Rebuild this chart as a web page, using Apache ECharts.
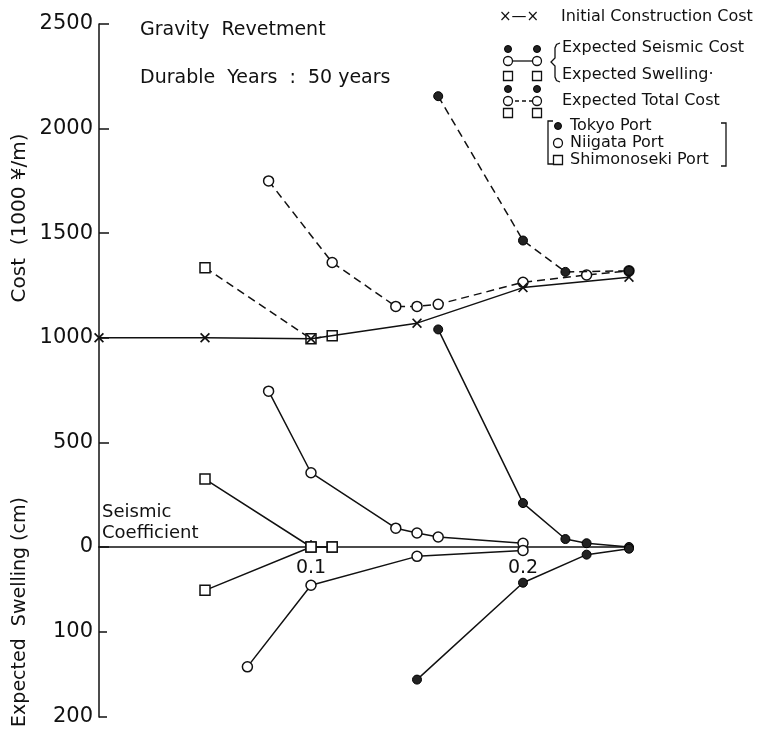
<!DOCTYPE html>
<html><head><meta charset="utf-8">
<script src="https://cdn.jsdelivr.net/npm/echarts@6/dist/echarts.min.js"></script>
<style>html,body{margin:0;padding:0;background:#fff}#c{width:765px;height:730px}</style>
</head><body><div id="c"></div>
<script>
// Seismic coefficient (x) and values
const initX = [0, 0.05, 0.1, 0.15, 0.2, 0.25];
const initCost = [1000, 1000, 995, 1070, 1240, 1290];

const tokyoTotalX = [0.16, 0.2, 0.22, 0.25];
const tokyoTotal = [2155, 1465, 1315, 1320];
const niigataTotalX = [0.08, 0.11, 0.14, 0.15, 0.16, 0.2, 0.23, 0.25];
const niigataTotal = [1750, 1360, 1150, 1150, 1160, 1265, 1300, 1320];
const shimoTotalX = [0.05, 0.1, 0.11];
const shimoTotal = [1335, 995, 1010];

const tokyoSeisX = [0.16, 0.2, 0.22, 0.23, 0.25];
const tokyoSeis = [1040, 210, 38, 18, 0];
const niigataSeisX = [0.08, 0.1, 0.14, 0.15, 0.16, 0.2];
const niigataSeis = [745, 355, 90, 67, 48, 18];
const shimoSeisX = [0.05, 0.1, 0.11];
const shimoSeis = [325, 0, 0];

const tokyoSwellX = [0.15, 0.2, 0.23, 0.25];
const tokyoSwell = [156, 42, 9, 2];
const niigataSwellX = [0.07, 0.1, 0.15, 0.2];
const niigataSwell = [141, 45, 11, 4];
const shimoSwellX = [0.05, 0.1, 0.11];
const shimoSwell = [51, 0, 0];

const costTicks = [0, 500, 1000, 1500, 2000, 2500];
const swellTicks = [100, 200];
const coefTicks = [0.1, 0.2];

const FONT = 'DejaVu Sans';
const INK = '#111';
function pairs(xs, ys) { return xs.map((x, i) => [x, ys[i]]); }

const crossSym = 'path://M0,1.2 L1.2,0 L5,3.8 L8.8,0 L10,1.2 L6.2,5 L10,8.8 L8.8,10 L5,6.2 L1.2,10 L0,8.8 L3.8,5 Z';
const styles = {
  tokyo: { symbol: 'circle', symbolSize: 9, itemStyle: { color: '#222', borderColor: '#000', borderWidth: 1 } },
  niigata: { symbol: 'circle', symbolSize: 10, itemStyle: { color: '#fff', borderColor: INK, borderWidth: 1.5 } },
  shimo: { symbol: 'rect', symbolSize: 10, itemStyle: { color: '#fff', borderColor: INK, borderWidth: 1.5 } }
};
function mk(name, xs, ys, port, dashed, gi) {
  return Object.assign({
    name: name, type: 'line', xAxisIndex: gi, yAxisIndex: gi,
    data: pairs(xs, ys), showSymbol: true, animation: false, z: port === 'tokyo' ? 4 : 3,
    lineStyle: { color: INK, width: 1.5, type: dashed ? [8, 5] : 'solid' }
  }, styles[port]);
}

const series = [
  { name: 'Initial Construction Cost', type: 'line', xAxisIndex: 0, yAxisIndex: 0,
    data: pairs(initX, initCost), symbol: crossSym, symbolSize: 10, animation: false,
    itemStyle: { color: INK }, lineStyle: { color: INK, width: 1.5 }, z: 5 },
  mk('Tokyo Total', tokyoTotalX, tokyoTotal, 'tokyo', true, 0),
  mk('Niigata Total', niigataTotalX, niigataTotal, 'niigata', true, 0),
  mk('Shimonoseki Total', shimoTotalX, shimoTotal, 'shimo', true, 0),
  mk('Tokyo Seismic', tokyoSeisX, tokyoSeis, 'tokyo', false, 0),
  mk('Niigata Seismic', niigataSeisX, niigataSeis, 'niigata', false, 0),
  mk('Shimonoseki Seismic', shimoSeisX, shimoSeis, 'shimo', false, 0),
  mk('Tokyo Swelling', tokyoSwellX, tokyoSwell, 'tokyo', false, 1),
  mk('Niigata Swelling', niigataSwellX, niigataSwell, 'niigata', false, 1),
  mk('Shimonoseki Swelling', shimoSwellX, shimoSwell, 'shimo', false, 1)
];

const axisLineStyle = { color: INK, width: 1.5 };
const txt = (t, x, y, size, extra) => ({ type: 'text', x: x, y: y, silent: true,
  style: Object.assign({ text: t, fontSize: size, fontFamily: FONT, fill: INK, textVerticalAlign: 'middle' }, extra || {}) });
const ln = (x1, y1, x2, y2, dashed) => ({ type: 'line', silent: true,
  shape: { x1: x1, y1: y1, x2: x2, y2: y2 }, style: { stroke: INK, lineWidth: 1.3, lineDash: dashed ? [4, 3] : null } });
const poly = (pts, smooth) => ({ type: 'polyline', silent: true, shape: { points: pts, smooth: smooth || 0 }, style: { stroke: INK, lineWidth: 1.3, fill: null } });
const dot = (x, y) => ({ type: 'circle', silent: true, shape: { cx: x, cy: y, r: 3.5 }, style: { fill: '#222', stroke: '#000' } });
const ring = (x, y) => ({ type: 'circle', silent: true, shape: { cx: x, cy: y, r: 4.5 }, style: { fill: '#fff', stroke: INK, lineWidth: 1.3 } });
const sq = (x, y) => ({ type: 'rect', silent: true, shape: { x: x - 4.5, y: y - 4.5, width: 9, height: 9 }, style: { fill: '#fff', stroke: INK, lineWidth: 1.3 } });

const LG = { fontWeight: 'normal' };
const graphic = [
  txt('Gravity  Revetment', 140, 30, 19),
  txt('Durable  Years  :  50 years', 140, 78, 19),
  txt('Seismic', 102, 512, 18),
  txt('Coefficient', 102, 533, 18),
  { type: 'text', x: 20, y: 218, rotation: Math.PI / 2, silent: true,
    style: { text: 'Cost  (1000 ¥/m)', fontSize: 20, fontFamily: FONT, fill: INK, textAlign: 'center', textVerticalAlign: 'middle' } },
  { type: 'text', x: 20, y: 612, rotation: Math.PI / 2, silent: true,
    style: { text: 'Expected  Swelling (cm)', fontSize: 19, fontFamily: FONT, fill: INK, textAlign: 'center', textVerticalAlign: 'middle' } },
  // legend
  txt('×—×', 499, 17, 15),
  txt('Initial Construction Cost', 561, 17, 16, LG),
  dot(508, 49), dot(537, 49),
  ln(508, 61, 537, 61), ring(508, 61), ring(537, 61),
  sq(508, 76), sq(537, 76),
  poly([[560, 43], [556.5, 44.5], [555, 48], [555, 58], [551, 62], [555, 66], [555, 77], [556.5, 80.5], [560, 82]]),
  txt('Expected Seismic Cost', 562, 48, 16, LG),
  txt('Expected Swelling·', 562, 75, 16, LG),
  dot(508, 89), dot(537, 89),
  ln(508, 101, 537, 101, true), ring(508, 101), ring(537, 101),
  sq(508, 113), sq(537, 113),
  txt('Expected Total Cost', 562, 101, 16, LG),
  poly([[553, 121], [548, 121], [548, 164], [553, 164]]),
  poly([[721, 123], [726, 123], [726, 166], [721, 166]]),
  dot(558, 126), txt('Tokyo Port', 570, 126, 16, LG),
  ring(558, 143), txt('Niigata Port', 570, 143, 16, LG),
  sq(558, 160), txt('Shimonoseki Port', 570, 160, 16, LG)
];

const option = {
  backgroundColor: '#fff',
  animation: false,
  grid: [
    { left: 99, top: 24, width: 530, height: 523 },
    { left: 99, top: 547, width: 530, height: 170 }
  ],
  xAxis: [
    { gridIndex: 0, type: 'value', min: 0, max: 0.25, interval: 0.1,
      axisLine: { show: true, onZero: false, lineStyle: axisLineStyle },
      axisTick: { show: true, inside: true, length: 7, lineStyle: axisLineStyle,
        customValues: coefTicks },
      axisLabel: { show: true, customValues: coefTicks, formatter: v => v.toFixed(1),
        fontSize: 19, color: INK, fontFamily: FONT, margin: 12 },
      splitLine: { show: false } },
    { gridIndex: 1, type: 'value', min: 0, max: 0.25, show: false, splitLine: { show: false } }
  ],
  yAxis: [
    { gridIndex: 0, type: 'value', min: 0, max: 2500, interval: 500,
      axisLine: { show: true, lineStyle: axisLineStyle },
      axisTick: { show: true, inside: true, length: 10, lineStyle: axisLineStyle, customValues: costTicks },
      axisLabel: { fontSize: 21, color: INK, fontFamily: FONT, margin: 6, customValues: costTicks,
        formatter: v => String(v) },
      splitLine: { show: false } },
    { gridIndex: 1, type: 'value', min: 0, max: 200, interval: 100, inverse: true,
      axisLine: { show: true, lineStyle: axisLineStyle },
      axisTick: { show: true, inside: true, length: 8, lineStyle: axisLineStyle, customValues: swellTicks },
      axisLabel: { fontSize: 21, color: INK, fontFamily: FONT, margin: 6, customValues: swellTicks,
        formatter: v => String(v) },
      splitLine: { show: false } }
  ],
  series: series,
  graphic: graphic
};
const chart = echarts.init(document.getElementById('c'), null, { renderer: 'canvas' });
chart.setOption(option);
</script>
</body></html>
